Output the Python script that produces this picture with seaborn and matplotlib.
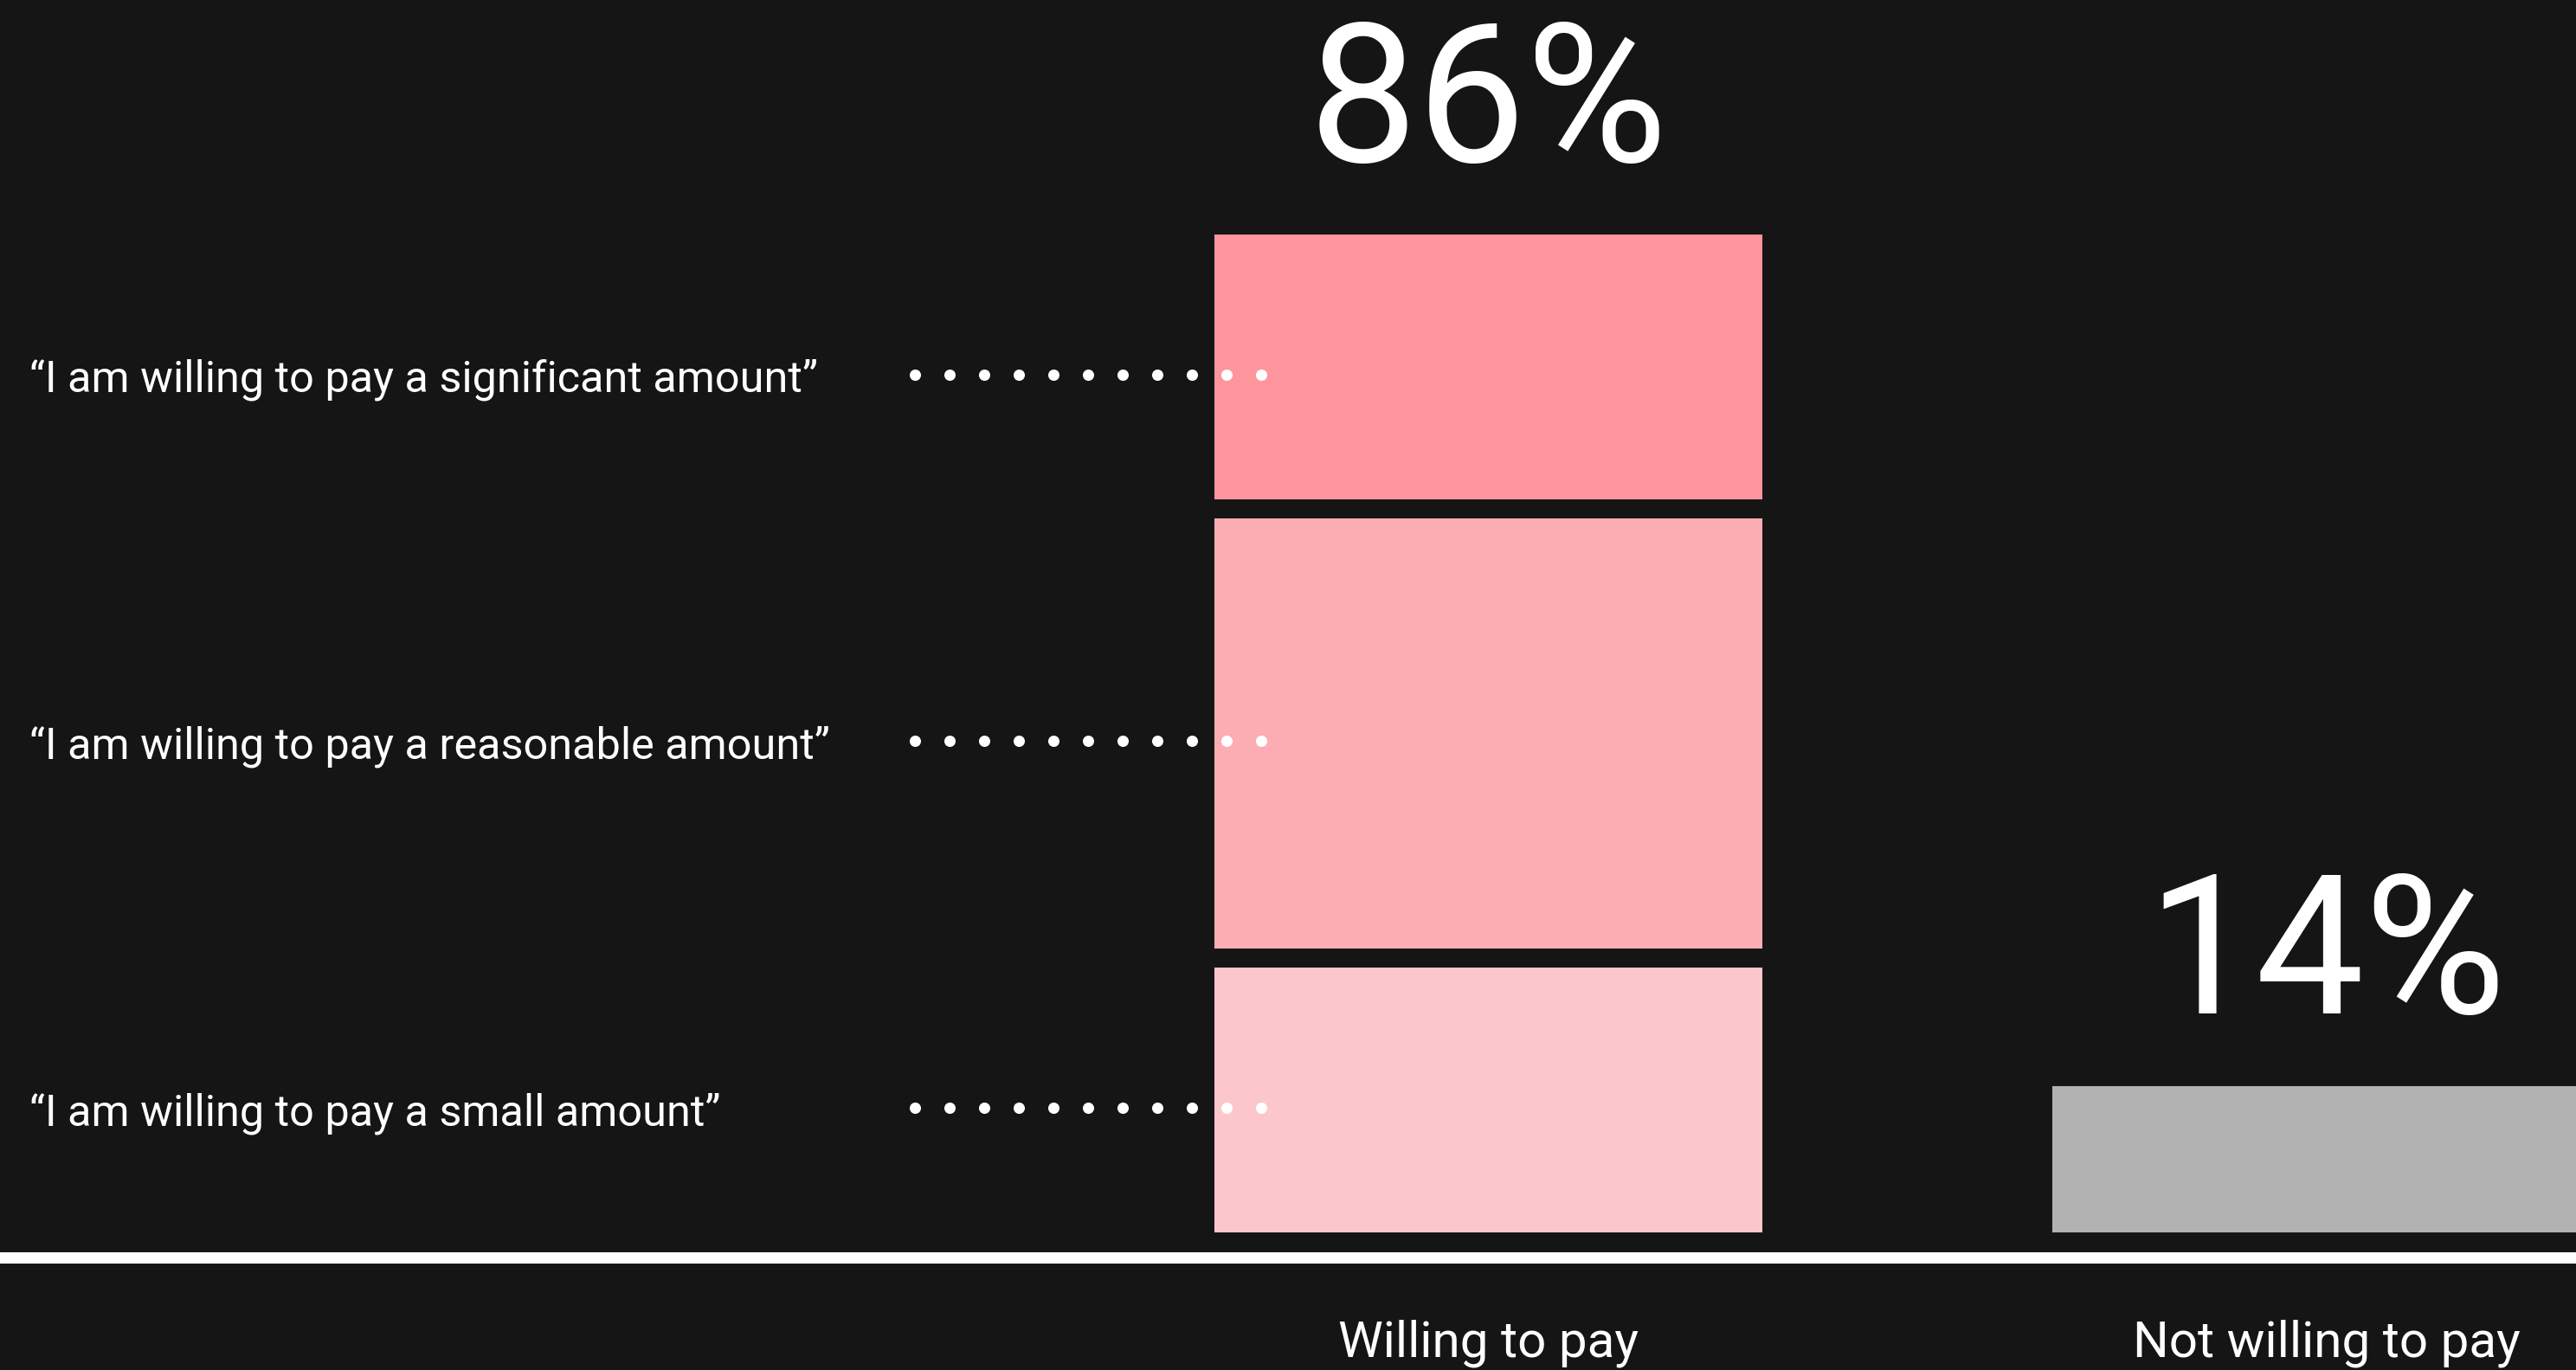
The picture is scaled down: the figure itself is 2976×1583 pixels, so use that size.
import numpy as np
import matplotlib
matplotlib.use("Agg")
import matplotlib.pyplot as plt
import matplotlib.transforms as mtransforms
import seaborn as sns

# ---- data ----
categories = ["Willing to pay", "Not willing to pay"]
totals = [86, 14]
total_labels = ["86%", "14%"]
tiers = [
    "\u201cI am willing to pay a small amount\u201d",
    "\u201cI am willing to pay a reasonable amount\u201d",
    "\u201cI am willing to pay a significant amount\u201d",
]
tier_values = [24, 38, 24]
tier_colors = ["#FBC7CC", "#FCADB4", "#FE959D"]
not_color = "#B2B2B2"

BG = "#151515"
sns.set_theme(style="dark")
plt.rcParams["font.family"] = ["Roboto", "DejaVu Sans"]

fig = plt.figure(figsize=(29.76, 15.83), dpi=100, facecolor=BG)
ax = fig.add_axes([0, 0.0824, 1, 0.9176])
ax.set_facecolor(BG)

bar_w = 0.677
edge_lw = 15.8
cum = np.cumsum(tier_values)

# stacked bar: draw cumulative heights, tallest first
for i in range(len(tiers) - 1, -1, -1):
    sns.barplot(x=[categories[0]], y=[cum[i]], order=categories,
                color=tier_colors[i], saturation=1, width=bar_w,
                edgecolor=BG, linewidth=edge_lw, ax=ax)
sns.barplot(x=[categories[1]], y=[totals[1]], order=categories,
            color=not_color, saturation=1, width=bar_w,
            edgecolor=BG, linewidth=edge_lw, ax=ax)

ax.set_xlim(-1.776, 1.298)
ax.set_ylim(-1.28, 105)

# total labels
for i, lab in enumerate(total_labels):
    ax.annotate(lab, xy=(i, totals[i]), xytext=(0, 52.5), textcoords="offset points",
                ha="center", va="baseline", fontsize=161, color="white",
                family=["Roboto", "DejaVu Sans"])

# tier labels with dotted leaders
bottoms = np.concatenate([[0], cum[:-1]])
mids = bottoms + np.array(tier_values) / 2
dot_trans = ax.transData + mtransforms.ScaledTranslation(0, -6.5 / 72, fig.dpi_scale_trans)
dot_x = np.linspace(-bar_w / 2 - 0.3455, -bar_w / 2 + 0.0675, 11)
blend = mtransforms.blended_transform_factory(ax.transAxes, ax.transData)
for lab, m in zip(tiers, mids):
    ax.plot(dot_x, np.full_like(dot_x, m), linestyle="none", marker="o",
            markersize=9.4, markerfacecolor="white", markeredgewidth=0,
            transform=dot_trans, zorder=5)
    ax.annotate(lab, xy=(0.0114, m), xycoords=blend, xytext=(0, -20.9),
                textcoords="offset points", ha="left", va="baseline",
                fontsize=36.3, color="white")

# axes styling
for s in ["left", "top", "right"]:
    ax.spines[s].set_visible(False)
ax.spines["bottom"].set_color("white")
ax.spines["bottom"].set_linewidth(9.4)
ax.set_xticks([0, 1])
ax.set_xticklabels(categories, fontsize=42, color="white")
ax.tick_params(axis="x", length=0, pad=52)
ax.set_yticks([])
ax.set_xlabel("")
ax.set_ylabel("")
ax.grid(False)

fig.savefig("out.png", dpi=100, facecolor=BG)
